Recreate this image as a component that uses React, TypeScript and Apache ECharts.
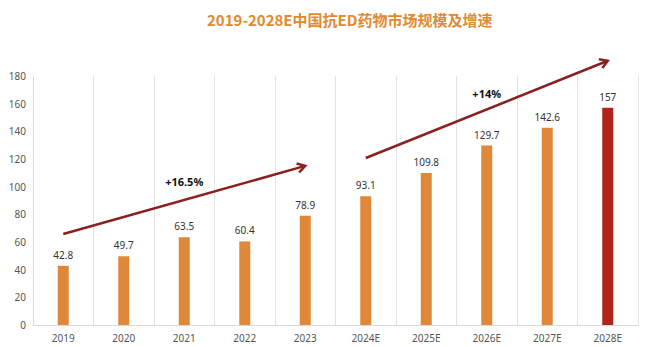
import React, { useEffect, useRef } from "react";
import * as echarts from "echarts";

const titleText = "2019-2028E中国抗ED药物市场规模及增速";
const categories = ["2019", "2020", "2021", "2022", "2023", "2024E", "2025E", "2026E", "2027E", "2028E"];
const values = [42.8, 49.7, 63.5, 60.4, 78.9, 93.1, 109.8, 129.7, 142.6, 157];
const yTicks = { min: 0, max: 180, interval: 20 };
// arrow annotations in data space: [categoryIndex, value]
const arrow1 = [[-0.03, 65.8], [3.93, 115]];
const arrow2 = [[4.94, 120.7], [8.8, 191]];
const growthLabels = [
  { text: "+16.5%", at: [1.76, 103.5] },
  { text: "+14%", at: [6.63, 167] },
];

const ORANGE = "#E0883A";
const RED = "#B0241A";
const ARROW = "#8C1F1F";

export default function App() {
  const ref = useRef<HTMLDivElement>(null);
  useEffect(() => {
    if (!ref.current) return;
    const chart = echarts.init(ref.current, null, { renderer: "svg" });
    chart.setOption({
      animation: false,
      title: {
        text: titleText,
        left: 202,
        top: 7,
        textStyle: { color: "#E3892F", fontSize: 15, fontWeight: "bold", fontFamily: "Noto Sans CJK SC" },
      },
      grid: { left: 33, right: 22, top: 76, bottom: 22, containLabel: false },
      xAxis: {
        type: "category",
        data: categories,
        axisLine: { lineStyle: { color: "#d9d9d9" } },
        axisTick: { show: false },
        axisLabel: { color: "#555", fontSize: 10, margin: 8, fontFamily: "Noto Sans" },
        splitLine: { show: true, lineStyle: { color: "#e3e3e3" } },
      },
      yAxis: {
        type: "value",
        min: yTicks.min,
        max: yTicks.max,
        interval: yTicks.interval,
        axisLine: { show: true, lineStyle: { color: "#d9d9d9" } },
        axisTick: { show: false },
        axisLabel: { color: "#555", fontSize: 10, margin: 7, fontFamily: "Noto Sans" },
        splitLine: { show: false },
      },
      series: [
        {
          type: "bar",
          barWidth: 11,
          data: values.map((v, i) => ({
            value: v,
            itemStyle: { color: i === values.length - 1 ? RED : ORANGE },
          })),
          label: { show: true, position: "top", distance: 6, color: "#333", fontSize: 10, fontFamily: "Noto Sans" },
        },
      ],
    });

    const px = (p: number[]) => chart.convertToPixel({ gridIndex: 0 }, p) as number[];
    const arrowEls = (a: number[][]) => {
      const s = px(a[0]);
      const e = px(a[1]);
      const ang = Math.atan2(e[1] - s[1], e[0] - s[0]);
      const L = 9;
      const spread = 0.55;
      const h1 = [e[0] - L * Math.cos(ang - spread), e[1] - L * Math.sin(ang - spread)];
      const h2 = [e[0] - L * Math.cos(ang + spread), e[1] - L * Math.sin(ang + spread)];
      return [
        { type: "line", shape: { x1: s[0], y1: s[1], x2: e[0], y2: e[1] }, style: { stroke: ARROW, lineWidth: 2.5 }, z: 10 },
        { type: "polyline", shape: { points: [h1, e, h2] }, style: { stroke: ARROW, lineWidth: 2.5, fill: "none" }, z: 10 },
      ];
    };
    const labels = growthLabels.map((g) => {
      const p = px(g.at);
      return {
        type: "text",
        x: p[0],
        y: p[1],
        z: 10,
        style: {
          text: g.text,
          fill: "#111",
          font: "bold 11px 'Noto Sans'",
          textAlign: "center",
          textVerticalAlign: "middle",
        },
      };
    });
    chart.setOption({ graphic: [...arrowEls(arrow1), ...arrowEls(arrow2), ...labels] });

    return () => chart.dispose();
  }, []);
  return <div ref={ref} style={{ position: "fixed", left: 0, top: 0, width: 660, height: 347, background: "#fff" }} />;
}
